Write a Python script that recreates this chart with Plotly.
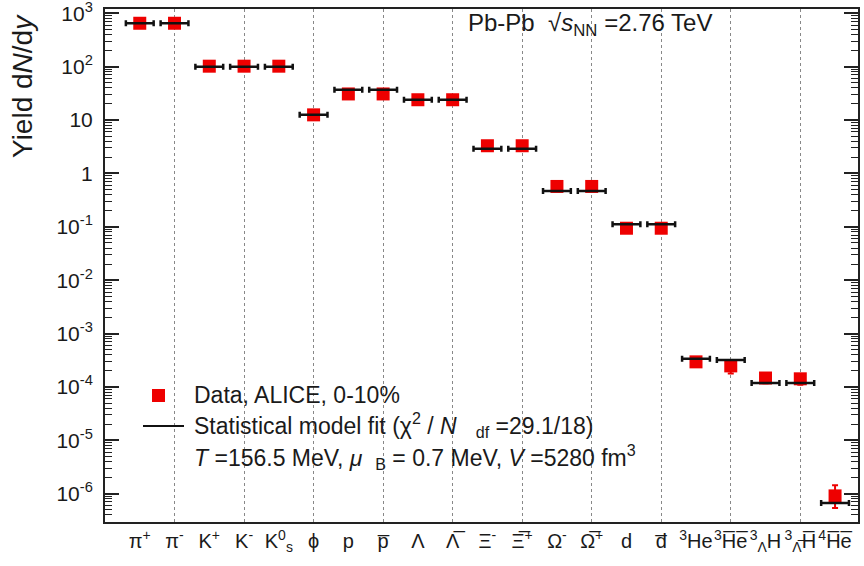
import plotly.graph_objects as go

OV = "\u0305"
NB = "\u00a0"
def ov(s):
    return "".join(c + OV for c in s)

labels = [
    "π<sup>+</sup>", "π<sup>-</sup>", "K<sup>+</sup>", "K<sup>-</sup>", "K<sup>0</sup><sub>s</sub>",
    "ϕ", "p", ov("p"), "Λ", ov("Λ"),
    "Ξ<sup>-</sup>", ov("Ξ") + "<sup>+</sup>", "Ω<sup>-</sup>", ov("Ω") + "<sup>+</sup>",
    "d", ov("d"), "<sup>3</sup>He", "<sup>3</sup>" + ov("He"),
    "<sup>3</sup><sub>Λ</sub>H", "<sup>3</sup><sub>" + ov("Λ") + "</sub>" + ov("H"), "<sup>4</sup>" + ov("He"),
]
data_yield = [650, 650, 102, 102, 102, 12.5, 30.8, 30.8, 24.0, 24.0,
              3.3, 3.3, 0.57, 0.57, 0.094, 0.094, 2.95e-4, 2.48e-4, 1.47e-4, 1.42e-4, 0.91e-6]
err_up = [30, 30, 5, 5, 5, 0.8, 2, 2, 1.5, 1.5,
          0.2, 0.2, 0.04, 0.04, 0.008, 0.008, 0.3e-4, 0.5e-4, 0.3e-4, 0.3e-4, 0.53e-6]
err_dn = [30, 30, 5, 5, 5, 0.8, 2, 2, 1.5, 1.5,
          0.2, 0.2, 0.04, 0.04, 0.008, 0.008, 0.3e-4, 0.7e-4, 0.3e-4, 0.32e-4, 0.37e-6]
model_yield = [650, 650, 100, 100, 100, 12.5, 37, 37, 24.0, 24.0,
               2.9, 2.9, 0.47, 0.47, 0.112, 0.112, 3.36e-4, 3.2e-4, 1.19e-4, 1.19e-4, 0.67e-6]
ytick_vals = [1e-6, 1e-5, 1e-4, 1e-3, 1e-2, 1e-1, 1, 10, 100, 1000]
ytick_text = ["10<sup>-6</sup>", "10<sup>-5</sup>", "10<sup>-4</sup>", "10<sup>-3</sup>", "10<sup>-2</sup>",
              "10<sup>-1</sup>", "1", "10", "10<sup>2</sup>", "10<sup>3</sup>"]

idx = list(range(len(labels)))
FONT = "Liberation Sans, Arial, sans-serif"
TXT = "#1a1a1a"

fig = go.Figure()
fig.add_trace(go.Scatter(
    x=idx, y=data_yield, mode="markers",
    marker=dict(symbol="square", size=13, color="#ee0000"),
    error_y=dict(type="data", array=err_up, arrayminus=err_dn, color="#ee0000", thickness=2, width=3),
    showlegend=False,
))
fig.add_trace(go.Scatter(
    x=idx, y=model_yield, mode="markers",
    marker=dict(size=1, color="rgba(0,0,0,0)"),
    error_x=dict(type="constant", value=0.4, color="#111", thickness=2.5, width=3),
    showlegend=False,
))

fig.update_layout(
    width=864, height=566,
    margin=dict(l=105, r=6, t=9, b=44),
    paper_bgcolor="white", plot_bgcolor="white",
    font=dict(family=FONT, size=21, color=TXT),
    showlegend=False,
)
fig.update_xaxes(
    range=[-1.0, 20.66], automargin=False,
    tickmode="array", tickvals=idx, ticktext=labels,
    tickfont=dict(size=20, color=TXT), tickangle=0,
    showgrid=False, zeroline=False,
    showline=True, linewidth=2, linecolor="#222", mirror=True,
    ticks="", ticklabeloverflow="allow",
    minor=dict(tickmode="array", tickvals=idx[1::2], showgrid=True,
               gridcolor="#888", griddash="dot", gridwidth=1, ticks=""),
)
fig.update_yaxes(
    type="log", range=[-6.53, 3.08], automargin=False,
    tickmode="array", tickvals=ytick_vals, ticktext=ytick_text,
    tickfont=dict(size=21, color=TXT),
    ticks="inside", ticklen=14, tickwidth=1.5, tickcolor="#222",
    showgrid=False, zeroline=False,
    showline=True, linewidth=2, linecolor="#222", mirror="ticks",
    ticklabelstandoff=6, ticklabeloverflow="allow",
    minor=dict(dtick="D1", ticks="inside", ticklen=7, tickwidth=1, tickcolor="#222", showgrid=False),
)

def px(x):
    return (x - 105) / 753
def py(y):
    return (522 - y) / 513

# y title
fig.add_annotation(xref="paper", yref="paper", x=px(22), y=py(12), xanchor="center", yanchor="top",
                   text="Yield d<i>N</i>/d<i>y</i>", textangle=-90, showarrow=False,
                   font=dict(size=28, color=TXT))
# energy label
fig.add_annotation(xref="paper", yref="paper", x=px(466), y=py(24),
                   xanchor="left", yanchor="middle", showarrow=False,
                   text="Pb-Pb " + NB + "\u221a<i>s</i><sub>NN</sub>" + NB + "=2.76 TeV",
                   font=dict(size=24, color=TXT))

# legend (manual)
fig.add_shape(type="rect", xref="paper", yref="paper", x0=px(152), x1=px(165), y0=py(402), y1=py(389),
              fillcolor="#ee0000", line=dict(width=0))
fig.add_shape(type="line", xref="paper", yref="paper", x0=px(143), x1=px(184), y0=py(426), y1=py(426),
              line=dict(color="#111", width=2))
fig.add_annotation(xref="paper", yref="paper", x=px(192), y=py(395), xanchor="left", yanchor="middle",
                   showarrow=False, text="Data, ALICE, 0-10%", font=dict(size=23, color=TXT))
fig.add_annotation(xref="paper", yref="paper", x=px(192), y=py(425), xanchor="left", yanchor="middle",
                   showarrow=False,
                   text="Statistical model fit (\u03c7<sup>2</sup>" + NB + "/" + NB + "<i>N</i>" + NB * 3
                        + "<sub>df</sub>" + NB + "=29.1/18)",
                   font=dict(size=23, color=TXT))
fig.add_annotation(xref="paper", yref="paper", x=px(192), y=py(457), xanchor="left", yanchor="middle",
                   showarrow=False,
                   text="<i>T</i>" + NB + "=156.5 MeV," + NB + "<i>\u03bc</i>" + NB * 2 + "<sub>B</sub>" + NB
                        + "=" + NB + "0.7 MeV," + NB + "<i>V</i>" + NB + "=5280" + NB + "fm<sup>3</sup>",
                   font=dict(size=23, color=TXT))

fig.write_html("out.html", post_script="document.body.style.margin='0';",
               config={"displayModeBar": False})
